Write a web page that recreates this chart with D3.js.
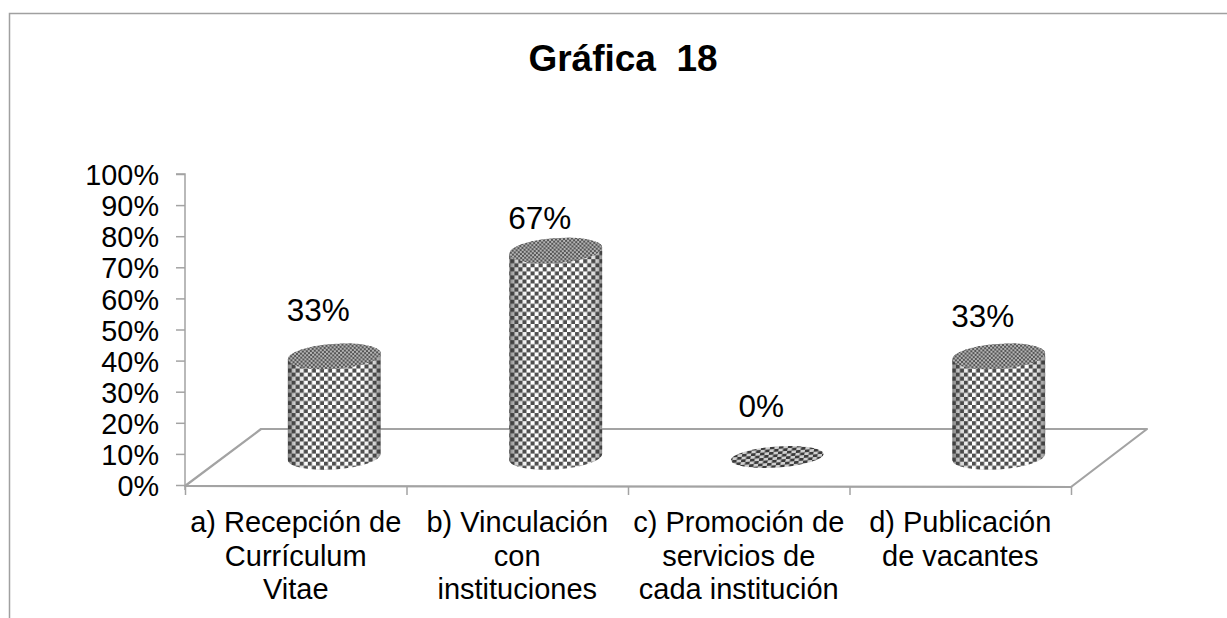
<!DOCTYPE html>
<html><head><meta charset="utf-8">
<style>html,body{margin:0;padding:0;background:#fff}svg{display:block}text{font-family:"Liberation Sans",Arial,sans-serif;fill:#000}</style>
<script src="https://cdn.jsdelivr.net/npm/d3@7"></script></head>
<body><svg id="c" width="1227" height="618"></svg>
<script>
const chartTitle = "Gráfica  18";
const categories = ["a","b","c","d"];
const categoryLines = [
  ["a) Recepción de","Currículum","Vitae"],
  ["b) Vinculación","con","instituciones"],
  ["c) Promoción de","servicios de","cada institución"],
  ["d) Publicación","de vacantes"]
];
const values = [33,67,0,33];
const yTicks = [0,10,20,30,40,50,60,70,80,90,100];

const W=1227,H=618;
const svg=d3.select("#c");
const y=d3.scaleLinear().domain([0,100]).range([485,174]);
const x=d3.scaleBand().domain(categories).range([185,1071]);
const depthX=76, depthY=56, midFloor=28;
const rx=46.5, ry=12.5, tilt=-4, topDrop=2;
const GREY="#a3a3a3";

const defs=svg.append("defs");
const cell=4.05;
const bodyPat=defs.append("pattern").attr("id","chk").attr("patternUnits","userSpaceOnUse").attr("width",cell*2).attr("height",cell*2);
bodyPat.append("rect").attr("width",cell*2).attr("height",cell*2).attr("fill","#fff");
bodyPat.append("rect").attr("width",cell).attr("height",cell).attr("fill","#4f4f4f");
bodyPat.append("rect").attr("x",cell).attr("y",cell).attr("width",cell).attr("height",cell).attr("fill","#4f4f4f");
const topPat=defs.append("pattern").attr("id","chkTop").attr("patternUnits","userSpaceOnUse").attr("width",4).attr("height",4);
topPat.append("rect").attr("width",4).attr("height",4).attr("fill","#b4b4b4");
topPat.append("rect").attr("width",2).attr("height",2).attr("fill","#555");
topPat.append("rect").attr("x",2).attr("y",2).attr("width",2).attr("height",2).attr("fill","#555");
const flatPat=defs.append("pattern").attr("id","chkFlat").attr("patternUnits","userSpaceOnUse").attr("width",9).attr("height",5.4).attr("patternTransform","skewX(-14)");
flatPat.append("rect").attr("width",9).attr("height",5.4).attr("fill","#d0d0d0");
flatPat.append("rect").attr("width",4.5).attr("height",2.7).attr("fill","#3a3a3a");
flatPat.append("rect").attr("x",4.5).attr("y",2.7).attr("width",4.5).attr("height",2.7).attr("fill","#3a3a3a");
const shade=defs.append("linearGradient").attr("id","shade");
[[0,.62],[.07,.25],[.2,0],[.8,0],[.93,.2],[1,.55]].forEach(([o,a])=>
  shade.append("stop").attr("offset",o).attr("stop-color","#333").attr("stop-opacity",a));
defs.append("filter").attr("id","soft").append("feGaussianBlur").attr("stdDeviation",0.5);

// chart frame: top and left edges only
svg.append("path").attr("d",`M9.5,${H}V13.5H${W}`).attr("fill","none").attr("stroke","#a0a0a0").attr("stroke-width",1.5);

// floor
const fl=x.range()[0], fr=x.range()[1], fy=y(0);
svg.append("path")
  .attr("d",`M${fl},${fy+1}L${fl+depthX},${fy-depthY}H${fr+depthX}L${fr},${fy+2}Z`)
  .attr("fill","none").attr("stroke",GREY).attr("stroke-width",2.2).attr("stroke-linejoin","round");

// axes
const yAxis=d3.axisLeft(y).tickValues(yTicks).tickFormat(d=>d+"%").tickSize(9).tickPadding(17);
const gy=svg.append("g").attr("transform",`translate(${fl},0)`).call(yAxis);
gy.selectAll("line,path").attr("stroke",GREY).attr("stroke-width",1.5);
gy.selectAll("text").attr("font-size",28.8).attr("dy","0.37em").style("font-family",'"Liberation Sans"').attr("fill","#000");
gy.select(".domain").attr("d",`M-9,${y(100)}H0V${fy+5}`).attr("fill","none");

const xAxis=d3.axisBottom(d3.scaleLinear().domain([0,4]).range([fl,fr])).ticks(4).tickSize(9).tickFormat("");
const gx=svg.append("g").attr("transform",`translate(0,${fy+1})`).call(xAxis);
gx.select(".domain").remove();
gx.selectAll("line").attr("stroke",GREY).attr("stroke-width",1.5);

// cylinders
const dx=Math.cos(tilt*Math.PI/180)*rx, dy=Math.sin(tilt*Math.PI/180)*rx;
const cxOf=c=>x(c)+x.bandwidth()/2+depthX/2+0.5;
const baseY=fy-midFloor;
values.forEach((v,i)=>{
  const cx=cxOf(categories[i]), h=y(0)-y(v), tc=baseY-h+topDrop;
  const g=svg.append("g").attr("filter","url(#soft)");
  if(v===0){
    g.append("ellipse").attr("rx",rx).attr("ry",10.5)
      .attr("transform",`translate(${cx},${baseY}) rotate(${tilt})`).attr("fill","url(#chkFlat)");
    return;
  }
  const d=`M${cx-dx},${tc-dy}L${cx-dx},${baseY-dy}A${rx},${ry} ${tilt} 0 0 ${cx+dx},${baseY+dy}L${cx+dx},${tc+dy}A${rx},${ry} ${tilt} 0 0 ${cx-dx},${tc-dy}Z`;
  g.append("path").attr("d",d).attr("fill","url(#chk)");
  g.append("path").attr("d",d).attr("fill","url(#shade)");
  g.append("ellipse").attr("rx",rx).attr("ry",ry)
    .attr("transform",`translate(${cx},${tc}) rotate(${tilt})`).attr("fill","url(#chkTop)");
});

// data labels
const labelGap=[33,20,40,27];
svg.append("g").selectAll("text").data(values).join("text")
  .attr("x",(d,i)=>cxOf(categories[i])-16)
  .attr("y",(d,i)=>baseY-(y(0)-y(d))-labelGap[i])
  .attr("text-anchor","middle").attr("font-size",31.5).text(d=>d+"%");

// category labels
categories.forEach((c,i)=>{
  const t=svg.append("text").attr("text-anchor","middle").attr("font-size",29)
    .attr("x",x(c)+x.bandwidth()/2).attr("y",fy+47);
  categoryLines[i].forEach((l,j)=>t.append("tspan").attr("x",x(c)+x.bandwidth()/2).attr("dy",j?33.5:0).text(l));
});

// title
svg.append("text").attr("x",623).attr("y",71).attr("text-anchor","middle")
  .attr("font-size",37).attr("font-weight","bold").style("white-space","pre").text(chartTitle);
</script></body></html>
